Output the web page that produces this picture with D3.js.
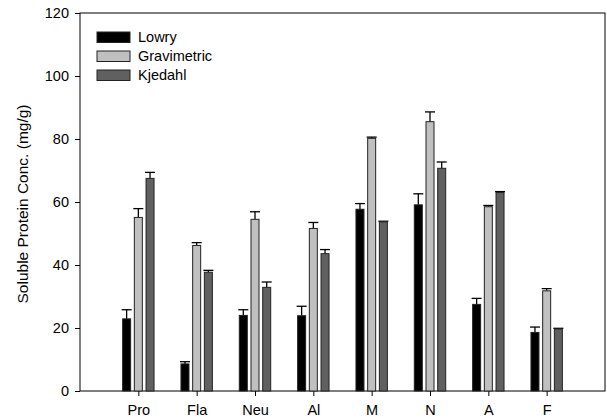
<!DOCTYPE html>
<html>
<head>
<meta charset="utf-8">
<script src="https://cdn.jsdelivr.net/npm/d3@7"></script>
<style>
  body { margin: 0; background: #fff; }
  text { font-family: "Liberation Sans", Arial, sans-serif; fill: #000; }
</style>
</head>
<body>
<svg width="607" height="419"></svg>
<script>
// samples along the x axis
const categories = ["Pro", "Fla", "Neu", "Al", "M", "N", "A", "F"];
const seriesNames = ["Lowry", "Gravimetric", "Kjedahl"];

// bar heights (mg/g)
const lowry       = [22.9, 8.6, 24.0, 23.9, 57.7, 59.1, 27.5, 18.6];
const gravimetric = [55.1, 46.2, 54.5, 51.6, 80.2, 85.5, 58.5, 31.8];
const kjedahl     = [67.5, 37.7, 32.9, 43.6, 53.7, 70.7, 63.0, 19.7];

// upper error bar ends
const lowryErr       = [25.8, 9.3, 25.8, 26.9, 59.5, 62.6, 29.4, 20.3];
const gravimetricErr = [57.9, 47.1, 56.9, 53.5, 80.6, 88.6, 58.9, 32.5];
const kjedahlErr     = [69.4, 38.3, 34.6, 44.9, 53.9, 72.7, 63.3, 19.9];

const yTicks = [0, 20, 40, 60, 80, 100, 120];

const colors = ["#000000", "#c0c0c0", "#606060"];
const values = [lowry, gravimetric, kjedahl];
const errs = [lowryErr, gravimetricErr, kjedahlErr];

const svg = d3.select("svg");
const m = { left: 80, right: 605, top: 13, bottom: 391 };

const x = d3.scalePoint().domain(categories).range([m.left, m.right]).padding(1);
const y = d3.scaleLinear().domain([0, 120]).range([m.bottom, m.top]);
const offset = d3.scalePoint().domain(seriesNames).range([-11.7, 11.7]);
const barW = 8;

// frame
svg.append("rect")
  .attr("x", m.left).attr("y", m.top)
  .attr("width", m.right - m.left).attr("height", m.bottom - m.top)
  .attr("fill", "none").attr("stroke", "#000").attr("stroke-width", 1);

// y axis
const yAxis = svg.append("g")
  .attr("transform", `translate(${m.left},0)`)
  .call(d3.axisLeft(y).tickValues(yTicks).tickSize(5).tickPadding(6));
yAxis.select(".domain").remove();
yAxis.selectAll("text").style("font-size", "14.5px");

// x axis ticks
const xAxis = svg.append("g")
  .attr("transform", `translate(0,${m.bottom})`)
  .call(d3.axisBottom(x).tickSize(5).tickPadding(9));
xAxis.select(".domain").remove();
xAxis.selectAll("text").style("font-size", "14.5px");

// bars and error bars
seriesNames.forEach((s, si) => {
  const g = svg.append("g");
  const data = categories.map((c, i) => ({ c, v: values[si][i], e: errs[si][i] }));
  const cx = d => x(d.c) + offset(s);

  g.selectAll(".err").data(data).enter().append("line")
    .attr("x1", cx).attr("x2", cx)
    .attr("y1", d => y(d.v)).attr("y2", d => y(d.e))
    .attr("stroke", "#000").attr("stroke-width", 1.3);
  g.selectAll(".cap").data(data).enter().append("line")
    .attr("x1", d => cx(d) - 5).attr("x2", d => cx(d) + 5)
    .attr("y1", d => y(d.e)).attr("y2", d => y(d.e))
    .attr("stroke", "#000").attr("stroke-width", 1.3);

  g.selectAll("rect").data(data).enter().append("rect")
    .attr("x", d => cx(d) - barW / 2)
    .attr("y", d => y(d.v))
    .attr("width", barW)
    .attr("height", d => y(0) - y(d.v))
    .attr("fill", colors[si])
    .attr("stroke", "#222").attr("stroke-width", 1);
});

// legend
const legend = svg.append("g");
seriesNames.forEach((s, i) => {
  const ly = 32 + i * 19;
  legend.append("rect")
    .attr("x", 97).attr("y", ly).attr("width", 33).attr("height", 10.5)
    .attr("fill", colors[i]).attr("stroke", "#222").attr("stroke-width", 1);
  legend.append("text")
    .attr("x", 138).attr("y", ly + 10)
    .style("font-size", "14.5px")
    .text(s);
});

// y title
svg.append("text")
  .attr("transform", `translate(28,${(m.top + m.bottom) / 2 + 2}) rotate(-90)`)
  .attr("text-anchor", "middle")
  .style("font-size", "15.5px")
  .text("Soluble Protein Conc. (mg/g)");
</script>
</body>
</html>
